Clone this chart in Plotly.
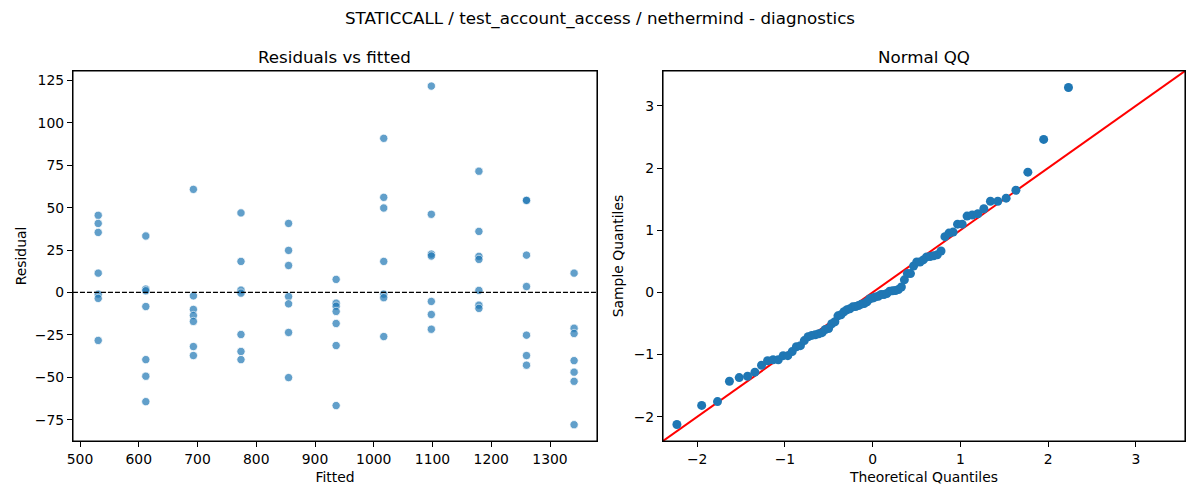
import plotly.graph_objects as go
from statistics import NormalDist, mean, pstdev

# ---- data ----
fitted_levels = [531, 612, 693, 774, 855, 936, 1017, 1098, 1179, 1260, 1341]

res_g1 = [45.5, 40.7, 35.4, 11.4, -1.0, -3.5, -28.3]
res_g2 = [33.3, 2.0, 1.0, -8.3, -39.6, -49.4, -64.4]
res_g3 = [60.8, -2.0, -10.0, -13.6, -17.1, -31.9, -37.2]
res_g4 = [46.9, 18.3, 1.4, -0.4, -24.8, -34.8, -39.6]
res_g5 = [40.7, 24.8, 15.9, -2.4, -6.7, -23.6, -50.2]
res_g6 = [7.7, -6.3, -8.1, -11.2, -18.3, -31.3, -66.7]
res_g7 = [90.9, 56.1, 49.8, 18.3, -1.0, -3.1, -26.0]
res_g8 = [121.7, 46.1, 22.6, 21.5, -5.3, -13.0, -21.7]
res_g9 = [71.5, 36.0, 21.3, 19.5, 1.2, -7.5, -9.4]
res_g10 = [54.3, 54.3, 22.0, 3.5, -25.2, -37.2, -42.9]
res_g11 = [11.4, -21.1, -24.2, -40.2, -47.0, -52.4, -78.0]

residual_groups = [res_g1, res_g2, res_g3, res_g4, res_g5, res_g6,
                   res_g7, res_g8, res_g9, res_g10, res_g11]

fitted = []
residuals = []
for lvl, grp in zip(fitted_levels, residual_groups):
    for r in grp:
        fitted.append(lvl)
        residuals.append(r)

# Normal QQ of the standardized residuals (plotting positions i/(n+1))
n = len(residuals)
m = mean(residuals)
s = pstdev(residuals)
sample_q = sorted((r - m) / s for r in residuals)
theo_q = [NormalDist().inv_cdf(i / (n + 1)) for i in range(1, n + 1)]

left_xticks = [500, 600, 700, 800, 900, 1000, 1100, 1200, 1300]
left_yticks = [-75, -50, -25, 0, 25, 50, 75, 100, 125]
qq_ticks = [-2, -1, 0, 1, 2, 3]
qq_range = [-2.39, 3.56]

title_text = "STATICCALL / test_account_access / nethermind - diagnostics"

# ---- figure ----
FONT = "DejaVu Sans"
fig = go.Figure()

fig.add_trace(go.Scatter(
    x=fitted, y=residuals, mode="markers",
    marker=dict(size=8.3, color="#1f77b4", opacity=0.7,
                line=dict(color="white", width=0.8)),
    xaxis="x", yaxis="y", showlegend=False))

fig.add_shape(type="line", xref="x domain", yref="y", x0=0, x1=1, y0=0, y1=0,
              line=dict(color="black", width=1.3, dash="5px,2px"))

fig.add_trace(go.Scatter(
    x=qq_range, y=qq_range, mode="lines",
    line=dict(color="red", width=2),
    xaxis="x2", yaxis="y2", showlegend=False, hoverinfo="skip"))

fig.add_trace(go.Scatter(
    x=theo_q, y=sample_q, mode="markers",
    marker=dict(size=9, color="#1f77b4"),
    xaxis="x2", yaxis="y2", showlegend=False))

# axes frames
for xr, yr in (("x domain", "y domain"), ("x2 domain", "y2 domain")):
    fig.add_shape(type="rect", xref=xr, yref=yr, x0=0, x1=1, y0=0, y1=1,
                  line=dict(color="black", width=1.1), fillcolor="rgba(0,0,0,0)",
                  layer="above")

axis_common = dict(
    showgrid=False, zeroline=False, showline=True, linecolor="black",
    linewidth=1.1, mirror=True, ticks="outside", ticklen=5, tickwidth=1.1,
    tickcolor="black", tickfont=dict(family=FONT, size=13.9, color="black"),
    automargin=False,
)

ydom = [0.118, 0.858]
fig.update_layout(
    width=1200, height=500,
    margin=dict(l=0, r=0, t=0, b=0),
    paper_bgcolor="white", plot_bgcolor="white",
    font=dict(family=FONT, color="black"),
    xaxis=dict(axis_common, domain=[0.0608, 0.4975], range=[488, 1380],
               tickvals=left_xticks, anchor="y",
               title=dict(text="Fitted", font=dict(family=FONT, size=13.9), standoff=6)),
    yaxis=dict(axis_common, domain=ydom, range=[-87.6, 130.6],
               tickvals=left_yticks, anchor="x",
               title=dict(text="Residual", font=dict(family=FONT, size=13.9), standoff=4)),
    xaxis2=dict(axis_common, domain=[0.5525, 0.9875], range=qq_range,
                tickvals=qq_ticks, anchor="y2",
                title=dict(text="Theoretical Quantiles", font=dict(family=FONT, size=13.9), standoff=6)),
    yaxis2=dict(axis_common, domain=ydom, range=qq_range,
                tickvals=qq_ticks, anchor="x2",
                title=dict(text="Sample Quantiles", font=dict(family=FONT, size=13.9), standoff=6)),
    annotations=[
        dict(text=title_text, xref="paper", yref="paper", x=0.5, y=0.988,
             xanchor="center", yanchor="top", showarrow=False,
             font=dict(family=FONT, size=16.7, color="black")),
        dict(text="Residuals vs fitted", xref="paper", yref="paper",
             x=(0.0608 + 0.4975) / 2, y=0.862, xanchor="center", yanchor="bottom",
             showarrow=False, font=dict(family=FONT, size=16.7, color="black")),
        dict(text="Normal QQ", xref="paper", yref="paper",
             x=(0.5525 + 0.9875) / 2, y=0.862, xanchor="center", yanchor="bottom",
             showarrow=False, font=dict(family=FONT, size=16.7, color="black")),
    ],
)

fig.write_html("out.html", config={"displayModeBar": False},
               post_script="document.body.style.margin='0';document.body.style.padding='0';")
